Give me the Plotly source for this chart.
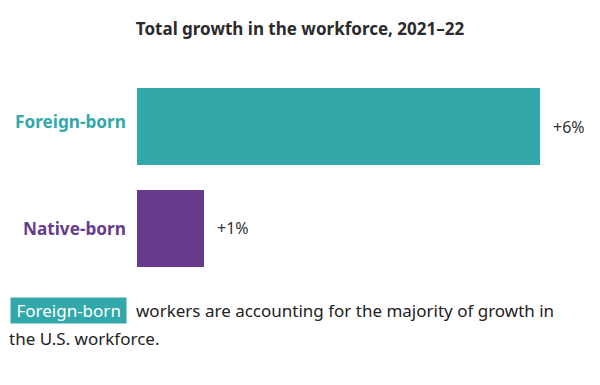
import plotly.graph_objects as go

categories = ["Foreign-born", "Native-born"]
values = [6, 1]
value_labels = ["+6%", "+1%"]
colors = ["#33a8ab", "#673b8c"]
title_text = "Total growth in the workforce, 2021–22"
caption_highlight = "Foreign-born"
caption_line1 = "workers are accounting for the majority of growth in"
caption_line2 = "the U.S. workforce."

FONT = "Noto Sans"
OFF = 8  # page body margin
W, H = 600 - OFF, 385 - OFF
L = 137 - OFF
T = 88.5 - 12.5 - OFF
B = (385 - OFF) - (267 + 12.5 - OFF)
plot_w = W - L
plot_h = H - T - B
label_yshift = [5, 0]

def px_x(px):
    return (px - OFF - L) / plot_w

def px_y(py):
    return (H - B - (py - OFF)) / plot_h

xmax = plot_w / 403 * 6

fig = go.Figure()
fig.add_trace(go.Bar(
    x=values, y=categories, orientation="h",
    marker=dict(color=colors, line=dict(width=0)),
    width=0.755, hoverinfo="skip",
))

annotations = []
for cat, val, lab, col, ys in zip(categories, values, value_labels, colors, label_yshift):
    annotations.append(dict(x=0, xref="paper", y=cat, yref="y", text=f"<b>{cat}</b>",
                            showarrow=False, xanchor="right", xshift=-9, yshift=ys,
                            font=dict(family=FONT, size=17.2, color=col)))
    annotations.append(dict(x=val, xref="x", y=cat, yref="y", text=lab,
                            showarrow=False, xanchor="left", xshift=11,
                            font=dict(family=FONT, size=16, color="#333333")))

annotations.append(dict(x=px_x(10), xref="paper", y=px_y(311.5), yref="paper",
                        text="&nbsp;" + caption_highlight + "&nbsp;", showarrow=False,
                        xanchor="left", yanchor="middle",
                        bgcolor="#33a8ab", borderpad=1,
                        font=dict(family=FONT, size=17, color="white")))
annotations.append(dict(x=px_x(134), xref="paper", y=px_y(311), yref="paper",
                        text=caption_line1, showarrow=False, xanchor="left", yanchor="middle",
                        font=dict(family=FONT, size=17, color="#222222")))
annotations.append(dict(x=px_x(7), xref="paper", y=px_y(339), yref="paper",
                        text=caption_line2, showarrow=False, xanchor="left", yanchor="middle",
                        font=dict(family=FONT, size=17, color="#222222")))

fig.update_layout(
    width=W, height=H,
    margin=dict(l=L, r=0, t=T, b=B, pad=0),
    paper_bgcolor="white", plot_bgcolor="white",
    title=dict(text=f"<b>{title_text}</b>", x=(300 - OFF) / W, xref="container", xanchor="center",
               y=1 - (29 - OFF) / H, yref="container", yanchor="middle",
               font=dict(family=FONT, size=17, color="#2b2b2b")),
    xaxis=dict(range=[0, xmax], visible=False, fixedrange=True),
    yaxis=dict(categoryorder="array", categoryarray=categories, range=[1.5, -0.5],
               visible=False, fixedrange=True),
    showlegend=False,
    annotations=annotations,
    bargap=0,
)

fig.write_html("out.html")
